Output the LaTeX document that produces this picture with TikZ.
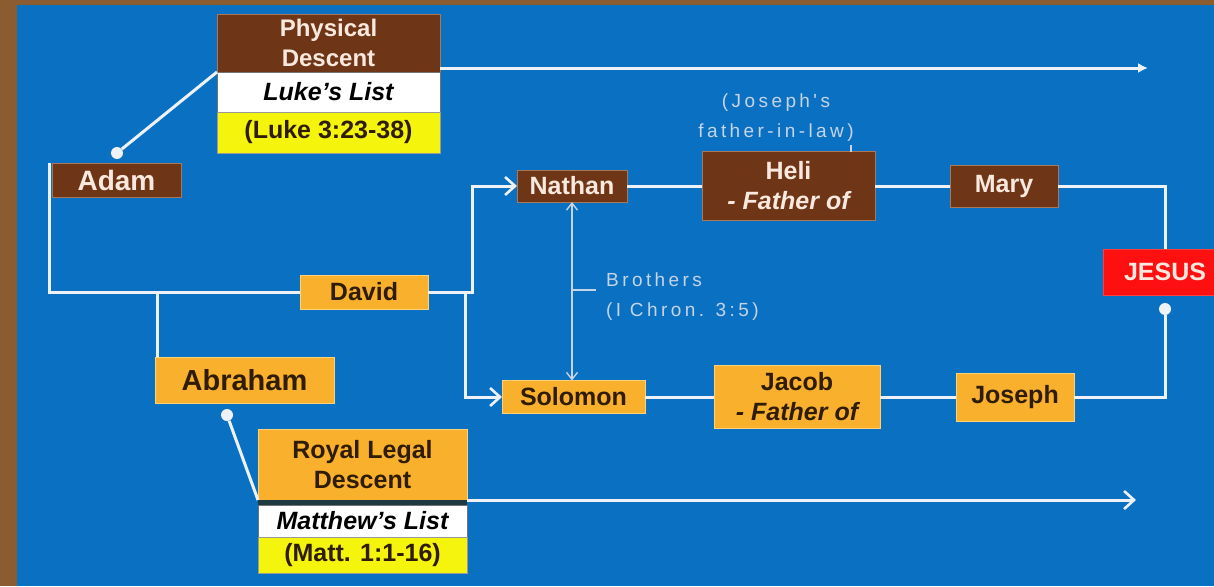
\documentclass[tikz,border=0pt]{standalone}
\usepackage{fontspec}
\setmainfont{Liberation Sans}
\newfontfamily\spaced[LetterSpace=18]{Liberation Sans}
\usetikzlibrary{arrows.meta}
\definecolor{bgblue}{HTML}{0A70C2}
\definecolor{frame}{HTML}{8A5C30}
\definecolor{boxbrown}{HTML}{6E3617}
\definecolor{brownedge}{HTML}{A87858}
\definecolor{boxorange}{HTML}{F9B02C}
\definecolor{orangeedge}{HTML}{FFD27A}
\definecolor{boxyellow}{HTML}{F4F40C}
\definecolor{lighttxt}{HTML}{F8E8DE}
\definecolor{darktxt}{HTML}{2E1C04}
\definecolor{jesusred}{HTML}{FF1010}
\definecolor{linewhite}{HTML}{EEF2F6}
\definecolor{softtxt}{HTML}{C6D4E6}
\definecolor{sepdark}{HTML}{1E3A40}
\begin{document}
\begin{tikzpicture}[x=1pt,y=-1pt,
  box/.style={inner sep=0pt, outer sep=0pt, align=center, line width=0.8pt,
    font=\bfseries\fontsize{25}{30}\selectfont},
  brownbox/.style={box, fill=boxbrown, text=lighttxt, draw=brownedge},
  orangebox/.style={box, fill=boxorange, text=darktxt, draw=orangeedge},
  whitebox/.style={box, fill=white, text=black, draw=black!55,
    font=\bfseries\itshape\fontsize{25}{30}\selectfont},
  yellowbox/.style={box, fill=boxyellow, text=darktxt, draw=black!40},
  redbox/.style={box, fill=jesusred, text=lighttxt, draw=jesusred!80!white},
  conn/.style={draw=linewhite, line width=3pt},
  barb/.style={conn, -{Straight Barb[length=10pt,width=18pt,line width=2.6pt]}},
  thinline/.style={draw=softtxt, line width=1.4pt},
  lighttext/.style={text=softtxt, font=\spaced\fontsize{19}{30}\selectfont, inner sep=0pt},
  dot/.style={circle, fill=linewhite, inner sep=0pt, minimum size=12pt}
]
\clip (0,0) rectangle (1214,586);
\fill[frame] (0,0) rectangle (1214,586);
\fill[bgblue] (17,5) rectangle (1214,586);

% Luke's list header
\node[brownbox, minimum width=223pt, minimum height=58pt,
  font=\bfseries\fontsize{24}{30}\selectfont] (phys) at (328.5,43) {Physical\\Descent};
\node[whitebox, minimum width=223pt, minimum height=40pt] (luke) at (328.5,92) {Luke's List};
\node[yellowbox, minimum width=223pt, minimum height=41pt] (lukeref) at (328.5,132.5) {(Luke 3:23-38)};

% Matthew's list header
\node[orangebox, minimum width=209pt, minimum height=71pt] (royal) at (362.5,464.5) {Royal Legal\\Descent};
\node[whitebox, minimum width=209pt, minimum height=32pt] (matt) at (362.5,521) {Matthew's List};
\node[yellowbox, minimum width=209pt, minimum height=36pt] (mattref) at (362.5,555) {(Matt. 1:1-16)};
\draw[sepdark, line width=5pt] ([yshift=-2.5pt]royal.south west) -- ([yshift=-2.5pt]royal.south east);

% people
\node[brownbox, minimum width=129pt, minimum height=34pt,
  font=\bfseries\fontsize{28}{30}\selectfont] (adam) at (116.5,180) {Adam};
\node[orangebox, minimum width=128pt, minimum height=34pt] (david) at (364,292) {David};
\node[orangebox, minimum width=179pt, minimum height=46pt,
  font=\bfseries\fontsize{29}{30}\selectfont] (abraham) at (244.5,380) {Abraham};
\node[brownbox, minimum width=110pt, minimum height=32pt] (nathan) at (572,186) {Nathan};
\node[brownbox, minimum width=173pt, minimum height=69pt] (heli) at (788.5,186) {Heli\\\itshape - Father of};
\node[brownbox, minimum width=108pt, minimum height=42pt] (mary) at (1004,186) {Mary};
\node[redbox, minimum width=124pt, minimum height=46pt] (jesus) at (1165,272) {JESUS};
\node[orangebox, minimum width=143pt, minimum height=33pt] (solomon) at (573.5,397) {Solomon};
\node[orangebox, minimum width=166pt, minimum height=63pt] (jacob) at (797,397) {Jacob\\\itshape - Father of};
\node[orangebox, minimum width=118pt, minimum height=48pt] (joseph) at (1015,397) {Joseph};

% annotations
\node[lighttext, align=center] (jfl) at (776,118) {(Joseph's\\father-in-law)};
\node[lighttext, align=left, anchor=west] (bro) at (606,297) {Brothers\\(I Chron. 3:5)};

% dots and coordinates
\node[dot] (adamdot) at (117,153) {};
\node[dot] (abdot) at (227,415) {};
\node[dot] (jdot) at (1165,309) {};
\coordinate (lukeEnd) at (1148,68);
\coordinate (mattEnd) at (1136,500);
\coordinate (ab) at (157,292);
\coordinate (dv) at (465,292);
\coordinate (bt) at (573,290);

% connectors
\draw[conn] (adamdot) -- (luke.north west);
\draw[conn, -{Latex[length=10pt,width=10pt]}] ([yshift=4pt]phys.south east) -- (lukeEnd);
\draw[conn] ([xshift=-3pt]adam.north west) |- (david.west);
\draw[conn] (ab) -- (ab |- abraham.north);
\draw[barb] (david.east) -- ++(44,0) |- (nathan.west);
\draw[barb] (dv) |- (solomon.west);
\draw[conn] (nathan.east) -- (heli.west);
\draw[conn] (heli.east) -- (mary.west);
\draw[conn] (mary.east) -| (jesus.north);
\draw[conn] (jdot) |- (joseph.east);
\draw[conn] (solomon.east) -- (jacob.west);
\draw[conn] (jacob.east) -- (joseph.west);
\draw[conn] (abdot) -- (royal.south west);
\draw[barb] (royal.south east) -- (mattEnd);
\draw[thinline, {Straight Barb[length=7pt,width=11pt,line width=1.4pt]}-{Straight Barb[length=7pt,width=11pt,line width=1.4pt]}]
  (nathan.south) -- (nathan.south |- solomon.north);
\draw[thinline] (bt) -- ++(23,0);
\draw[thinline] ([xshift=62.5pt]heli.north) -- ++(0,-7);
\end{tikzpicture}
\end{document}
